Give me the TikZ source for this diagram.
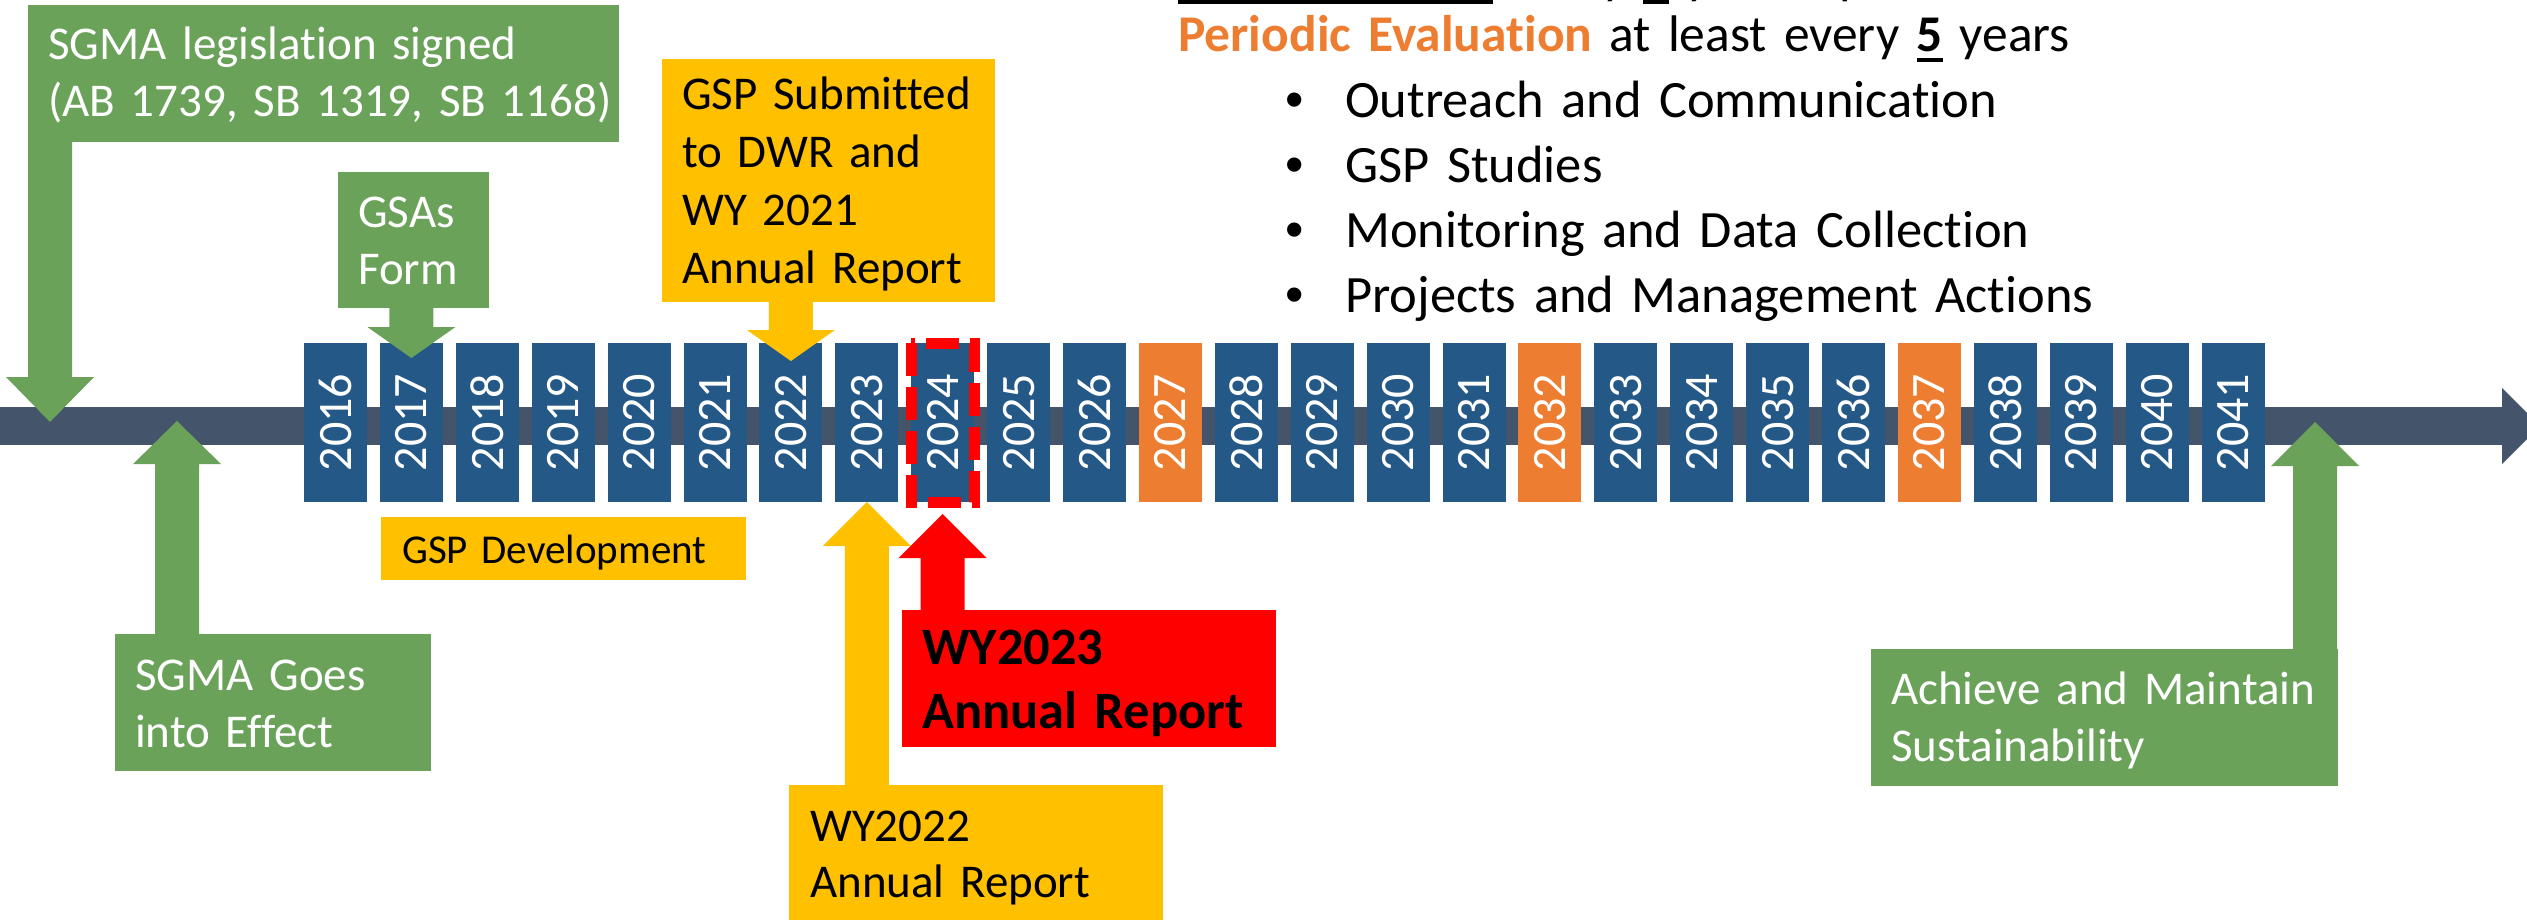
\documentclass[tikz,border=0pt]{standalone}
\usepackage{fontspec}
\setmainfont{Carlito}[Ligatures=CommonOff]
\newfontfamily\bulfont{Liberation Sans}
\usepackage{graphicx}
\usetikzlibrary{calc}
\definecolor{egreen}{HTML}{6AA25A}
\definecolor{eblue}{HTML}{245887}
\definecolor{eorange}{HTML}{ED7D31}
\definecolor{eyellow}{HTML}{FFC000}
\definecolor{ered}{HTML}{FF0000}
\definecolor{ebar}{HTML}{44546A}
\newsavebox\ulsave
\newcommand\ulbox[1]{\sbox\ulsave{#1}\rlap{\rule[-10pt]{\wd\ulsave}{4pt}}\usebox\ulsave}
\newcommand\bul{\leavevmode\llap{{\bulfont\char"2022}\hspace{41pt}}}
% block arrows: colour, from (only y used), tip, head length
\newcommand\arrDown[4]{%
  \fill[#1] let \p1=(#2), \p2=(#3) in
  (\x2-22pt,\y1) -- (\x2-22pt,\y2+#4) -- (\x2-44pt,\y2+#4) -- (\x2,\y2) --
  (\x2+44pt,\y2+#4) -- (\x2+22pt,\y2+#4) -- (\x2+22pt,\y1) -- cycle;}
\newcommand\arrUp[4]{%
  \fill[#1] let \p1=(#2), \p2=(#3) in
  (\x2-22pt,\y1) -- (\x2-22pt,\y2-#4) -- (\x2-44pt,\y2-#4) -- (\x2,\y2) --
  (\x2+44pt,\y2-#4) -- (\x2+22pt,\y2-#4) -- (\x2+22pt,\y1) -- cycle;}
\tikzset{
  box/.style={anchor=north west, inner sep=0pt, outer sep=0pt},
  yearbox/.style={minimum width=63pt, minimum height=159pt, inner sep=0pt,
    outer sep=0pt, text=white, font=\fontsize{48}{48}\selectfont},
  boxtext/.style={anchor=base west, inner sep=0pt, text width=#1, align=left,
    font=\fontsize{47}{57}\selectfont},
  bigtext/.style={anchor=base west, inner sep=0pt, text width=#1, align=left},
}
\begin{document}
\begin{tikzpicture}[x=1pt,y=-1pt]
\useasboundingbox (0,0) rectangle (2527,920);
% timeline bar
\fill[ebar] (0,407) rectangle (2502,445);
\fill[ebar] (2502,388) -- (2540,426) -- (2502,464) -- cycle;
% year boxes
\foreach \i in {0,...,25}{
  \pgfmathtruncatemacro\yr{2016+\i}
  \pgfmathsetmacro\xc{335.5+75.9*\i}
  \ifnum\yr=2027 \def\yc{eorange}\else\ifnum\yr=2032 \def\yc{eorange}\else
  \ifnum\yr=2037 \def\yc{eorange}\else\def\yc{eblue}\fi\fi\fi
  \node[yearbox, fill=\yc] (y\yr) at (\xc,422.5) {\rotatebox{90}{\yr}};
}
% current year highlight
\draw[ered, line width=11pt, dash pattern=on 33pt off 11pt]
  (y2024.north west) rectangle (y2024.south east);
% boxes
\node[box, fill=egreen, minimum width=591pt, minimum height=137pt] (sgmasign) at (28,5) {};
\node[box, fill=egreen, minimum width=151pt, minimum height=136pt] (gsas) at (338,172) {};
\node[box, fill=eyellow, minimum width=333pt, minimum height=243pt] (gspsub) at (662,59) {};
\node[box, fill=egreen, minimum width=316pt, minimum height=137pt] (sgmago) at (115,634) {};
\node[box, fill=eyellow, minimum width=365pt, minimum height=63pt] (gspdev) at (381,517) {};
\node[box, fill=eyellow, minimum width=374pt, minimum height=135pt] (wy22) at (789,785) {};
\node[box, fill=ered, minimum width=374pt, minimum height=137pt] (wy23) at (902,610) {};
\node[box, fill=egreen, minimum width=467pt, minimum height=137pt] (achieve) at (1871,649) {};
% arrow end points on the bar
\coordinate (t1) at (50,422);
\coordinate (t2) at (177,421);
\coordinate (t3) at (2315,422);
% arrows
\arrDown{egreen}{sgmasign.south}{t1}{45pt}
\arrDown{egreen}{gsas.south}{$(y2017.north)+(0,15)$}{31pt}
\arrDown{eyellow}{gspsub.south}{$(y2022.north)+(0,18)$}{31pt}
\arrUp{egreen}{sgmago.north}{t2}{43pt}
\arrUp{eyellow}{wy22.north}{y2023.south}{44pt}
\arrUp{ered}{wy23.north}{$(y2024.south)+(0,12)$}{44pt}
\arrUp{egreen}{achieve.north}{t3}{44pt}
% box texts
\node[boxtext=570pt, text=white] (sgmasignT) at (48,60) {SGMA legislation signed\\(AB 1739, SB 1319, SB 1168)};
\node[boxtext=140pt, text=white] (gsasT) at (358,228) {GSAs\\Form};
\node[boxtext=320pt, text=black, font=\fontsize{47}{57.7}\selectfont] (gspsubT) at (682,110) {GSP Submitted\\to DWR and\\WY 2021\\Annual Report};
\node[boxtext=300pt, text=white] (sgmagoT) at (135,690) {SGMA Goes\\into Effect};
\node[boxtext=340pt, text=black, font=\fontsize{41}{49}\selectfont] (gspdevT) at (402,563) {GSP Development};
\node[boxtext=350pt, text=black, font=\fontsize{47}{56}\selectfont] (wy22T) at (810,841) {WY2022\\Annual Report};
\node[bigtext=350pt, text=black, font=\fontsize{52.5}{64}\selectfont\bfseries] (wy23T) at (922,664) {WY2023\\Annual Report};
\node[boxtext=450pt, text=white] (achieveT) at (1891,704) {Achieve and Maintain\\Sustainability};
% header text
\node[bigtext=1300pt, font=\fontsize{51.5}{58}\selectfont] (head) at (1178,-6)
  {\ulbox{\textbf{Annual Report}} every \ulbox{\textbf{1}} year (April 1)\\
   \textcolor{eorange}{\textbf{Periodic Evaluation}} at least every \ulbox{\textbf{5}} years};
\node[bigtext=1100pt, font=\fontsize{52.5}{64.7}\selectfont] (bul) at (1345,118)
  {\bul Outreach and Communication\\
   \bul GSP Studies\\
   \bul Monitoring and Data Collection\\
   \bul Projects and Management Actions};
\end{tikzpicture}
\end{document}
